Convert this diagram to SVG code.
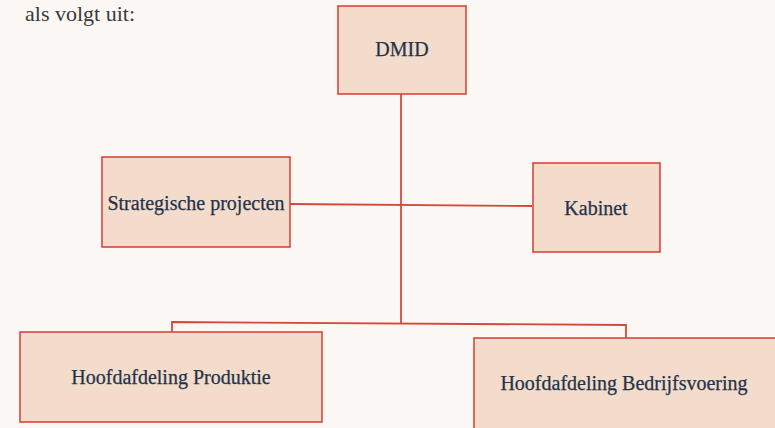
<svg xmlns="http://www.w3.org/2000/svg" width="775" height="428" viewBox="0 0 775 428">
<style>
.box{fill:#f3dccb;stroke:#d9473b;stroke-width:1.6}
.lbl{font-family:"Liberation Serif","DejaVu Serif",serif;font-size:20px;fill:#24324a;stroke:#24324a;stroke-width:0.25;text-anchor:middle}
.ln{fill:none;stroke:#d9473b;stroke-width:1.8}
.page{font-family:"Liberation Serif","DejaVu Serif",serif;font-size:22px;fill:#3a3a3a}
</style>
<rect width="775" height="428" fill="#faf7f4"/>
<text class="page" x="25" y="21">als volgt uit:</text>
<g id="connectors">
<line class="ln" x1="401" y1="94" x2="401" y2="324"/>
<line class="ln" x1="290" y1="204" x2="532" y2="206"/>
<polyline class="ln" points="172,332 172,322 626,325 626,339"/>
</g>
<g id="dmid">
<rect class="box" x="338" y="6" width="128" height="88"/>
<text class="lbl" x="402" y="56">DMID</text>
</g>
<g id="strategische">
<rect class="box" x="102" y="157" width="188" height="90"/>
<text class="lbl" x="196" y="210">Strategische projecten</text>
</g>
<g id="kabinet">
<rect class="box" x="533" y="163" width="127" height="89"/>
<text class="lbl" x="596" y="215">Kabinet</text>
</g>
<g id="produktie">
<rect class="box" x="20" y="332" width="302" height="90"/>
<text class="lbl" x="171" y="384">Hoofdafdeling Produktie</text>
</g>
<g id="bedrijfsvoering">
<rect class="box" x="474" y="338" width="302" height="92"/>
<text class="lbl" x="624" y="390">Hoofdafdeling Bedrijfsvoering</text>
</g>
</svg>
